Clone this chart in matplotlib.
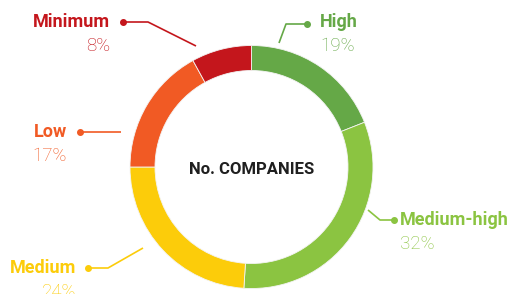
import matplotlib
matplotlib.use("Agg")
import matplotlib.pyplot as plt

# data
categories = ["High", "Medium-high", "Medium", "Low", "Minimum"]
shares = [19, 32, 24, 17, 8]
colors = ["#65a847", "#8bc441", "#fccc0a", "#f15a24", "#c4161c"]
center_label = "No. COMPANIES"

W, H = 509, 294
FONT = ["Roboto", "DejaVu Sans"]

fig = plt.figure(figsize=(W / 100, H / 100), dpi=100)
ax = fig.add_axes([0, 0, 1, 1])

def py(y):
    # pixel row -> data y
    return H - y

cx, cy, R = 251.5, 167, 121.5
ax.pie(shares, colors=colors, startangle=90, counterclock=False,
       center=(cx, py(cy)), radius=R,
       wedgeprops=dict(width=25, linewidth=0.6, edgecolor="#f4f4f4"))

ax.text(cx, py(169), center_label, ha="center", va="center",
        fontsize=12, fontweight="bold", color="#1f1f1f", family=FONT)

# label layout: text x, text y, ha, leader path (pixels)
layout = {
    "High": (320, 22, "left", [(307, 24), (286, 24), (279, 43)]),
    "Medium-high": (400, 220, "left", [(394, 220), (380, 220), (368, 210)]),
    "Medium": (76, 268, "right", [(88, 268), (108, 268), (143, 248)]),
    "Low": (67, 132, "right", [(80, 132), (121, 132)]),
    "Minimum": (110, 22, "right", [(123, 22), (148, 22), (196, 46)]),
}

for name, share, col in zip(categories, shares, colors):
    tx, ty, ha, path = layout[name]
    ax.text(tx, py(ty), name, ha=ha, va="center", fontsize=13,
            fontweight="bold", color=col, family=FONT)
    ax.text(tx, py(ty + 24), f"{share}%", ha=ha, va="center", fontsize=13.5,
            fontweight="light", color=col, family=FONT)
    xs = [p[0] for p in path]
    ys = [py(p[1]) for p in path]
    ax.plot(xs, ys, color=col, lw=1.2, solid_capstyle="butt")
    ax.plot(xs[0], ys[0], "o", color=col, ms=4)

ax.set_xlim(0, W)
ax.set_ylim(0, H)
ax.axis("off")

fig.savefig("out.png", dpi=100)
